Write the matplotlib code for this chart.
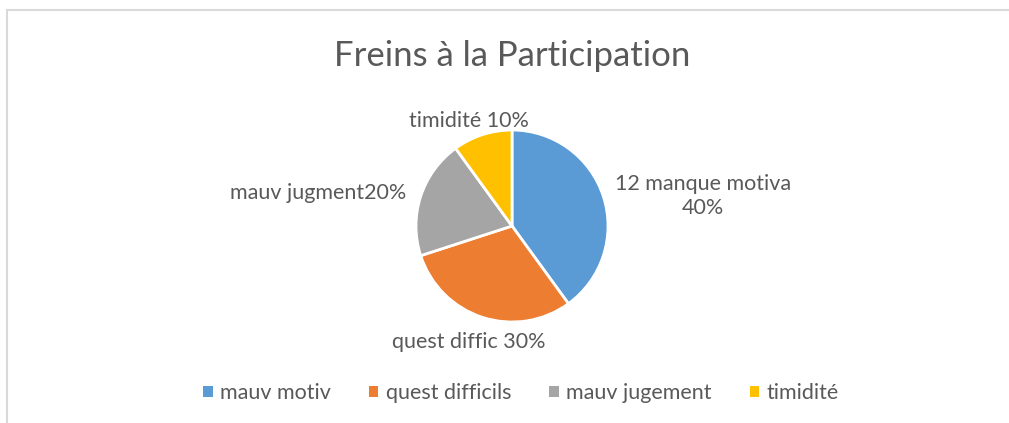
import matplotlib.pyplot as plt
from matplotlib.patches import Patch, Rectangle

plt.rcParams['font.family'] = ['Lato', 'DejaVu Sans']

# data
categories = ["mauv motiv", "quest difficils", "mauv jugement", "timidité"]
values = [40, 30, 20, 10]
slice_labels = ["12 manque motiva\n40%", "quest diffic 30%", "mauv jugment20%", "timidité 10%"]
colors = ["#5B9BD5", "#ED7D31", "#A5A5A5", "#FFC000"]

txt_color = "#595959"

fig = plt.figure(figsize=(10.09, 4.23), dpi=100)
ax = fig.add_axes([0, 0, 1, 1])

# chart frame like the excel object border
ax.add_patch(Rectangle((7, -20), 1030, 433, fill=False, edgecolor="#D9D9D9", linewidth=1.5))

wedges, _ = ax.pie(values, colors=colors, startangle=90, counterclock=False,
                   center=(512, 197), radius=96, frame=True,
                   wedgeprops=dict(edgecolor="white", linewidth=2))
ax.set_xlim(0, 1009)
ax.set_ylim(0, 423)
ax.set_aspect("equal")
ax.axis("off")

# label positions (text only)
label_pos = [(703, 227), (469, 81), (318, 230), (469, 302)]
for lab, (x, y) in zip(slice_labels, label_pos):
    ax.text(x, y, lab, ha="center", va="center", fontsize=15.5, color=txt_color,
            linespacing=1.3)

ax.text(512, 367, "Freins à la Participation", ha="center", va="center",
        fontsize=25, color=txt_color)

handles = [Patch(facecolor=c, edgecolor="none") for c in colors]
fig.legend(handles, categories, loc="center", bbox_to_anchor=(521 / 1009, 30 / 423),
           ncol=4, frameon=False, fontsize=15.5, handlelength=0.45, handleheight=0.45,
           handletextpad=0.35, columnspacing=1.75, labelcolor=txt_color)

fig.savefig("out.png", dpi=100)
